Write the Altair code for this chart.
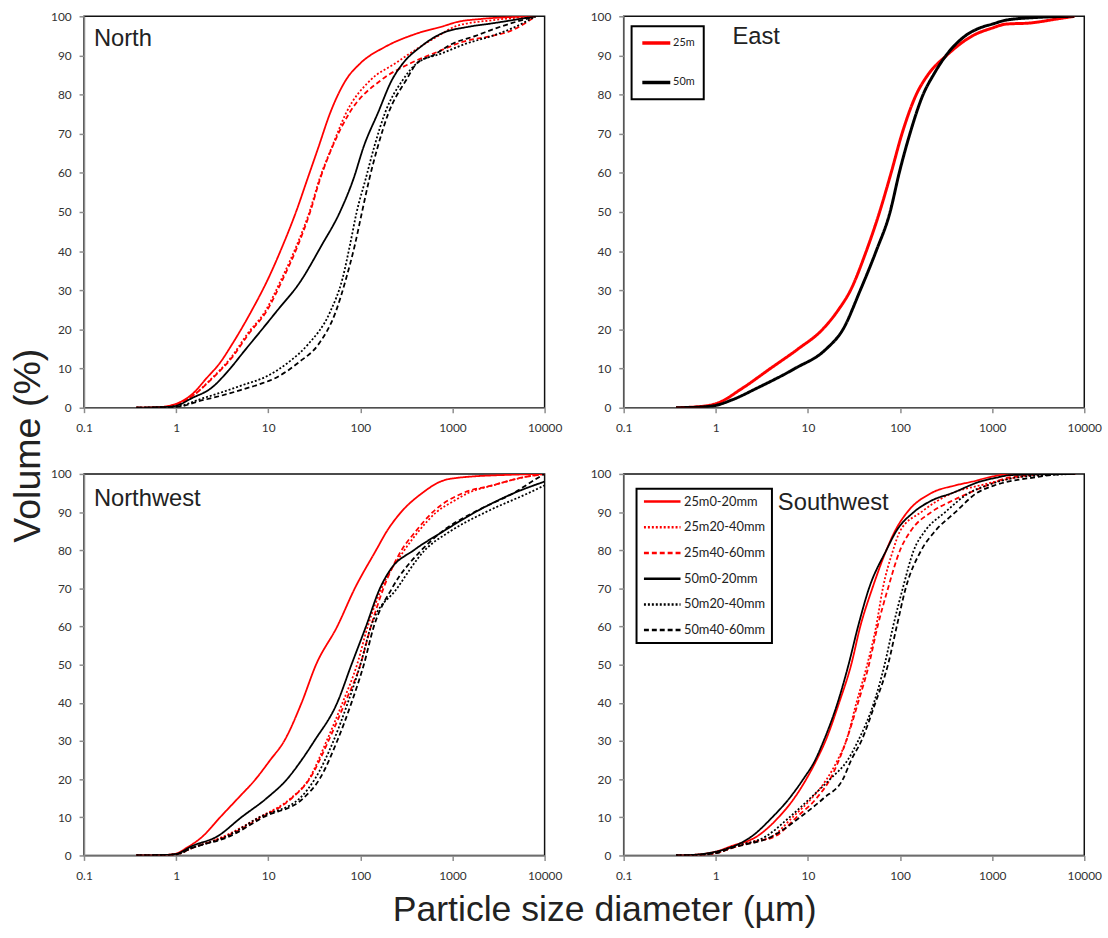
import altair as alt
import pandas as pd

SERIES6 = ["25m0-20mm", "25m20-40mm", "25m40-60mm", "50m0-20mm", "50m20-40mm", "50m40-60mm"]
COLORS6 = ["#ff0000", "#ff0000", "#ff0000", "#000000", "#000000", "#000000"]
DASHES6 = [[1, 0], [2, 2], [5, 3], [1, 0], [2, 2], [5, 3]]
SERIES2 = ["25m", "50m"]
COLORS2 = ["#ff0000", "#000000"]
DASHES2 = [[1, 0], [1, 0]]
X_TICKS = [0.1, 1, 10, 100, 1000, 10000]
Y_TICKS = [0, 10, 20, 30, 40, 50, 60, 70, 80, 90, 100]

# ---- North (size um, cumulative volume %) ----
N_25_0_20 = [(0.37, 0), (0.6, 0.1), (0.8, 0.4), (1, 1), (1.5, 3.5), (2.15, 7.6), (3, 11.5), (4, 16),
             (6.5, 24.5), (10, 33), (14.4, 41.5), (20, 50), (26.6, 58.4), (35, 66.5), (47, 75.3),
             (70, 83.8), (100, 88), (186, 92.2), (410, 95.6), (800, 97.5), (1100, 98.5), (2000, 99.3),
             (8000, 100)]
N_25_20_40 = [(0.37, 0), (0.6, 0.1), (0.8, 0.3), (1, 0.8), (1.5, 3), (2.46, 7.6), (4, 13), (6, 19),
              (9.2, 24.5), (14, 33), (20.4, 41.5), (28, 50), (36, 58.4), (49.5, 66.8), (70, 75.3),
              (130, 83.8), (240, 88), (400, 91.5), (700, 95), (1100, 97.5), (2700, 99), (8000, 100)]
N_25_40_60 = [(0.37, 0), (0.6, 0.1), (0.8, 0.3), (1, 0.8), (1.5, 3), (2.5, 7.6), (4.1, 13), (6.2, 19),
              (9.5, 24.5), (14.5, 33), (21, 41.5), (28.5, 50), (36.5, 58.4), (50, 66.8), (76, 75.3),
              (170, 83.8), (350, 88), (700, 91), (1300, 93.5), (2700, 95), (4000, 96), (8000, 100)]
N_50_0_20 = [(0.37, 0), (0.6, 0.1), (0.8, 0.2), (1, 0.5), (1.5, 2.5), (2.4, 5), (3.7, 9.5), (5.5, 14.5),
             (8.9, 20.5), (12.5, 24.8), (22, 32), (38, 41.5), (60, 50), (84, 58.4), (109, 66.8), (155, 75.3),
             (221, 83.8), (290, 88), (450, 92.2), (760, 95.6), (1470, 97.3), (2700, 98.2), (8000, 100)]
N_50_20_40 = [(0.37, 0), (0.6, 0.05), (1, 0.3), (2, 2.5), (3, 3.8), (5.3, 5.8), (9.2, 7.8), (17, 11.8),
              (26.6, 16), (47, 24.5), (64, 33), (77, 41.5), (91, 49.9), (114, 58.4), (142, 66.8),
              (185, 75.3), (290, 83.8), (410, 88), (760, 90.5), (1400, 93), (2700, 95), (4500, 97),
              (8000, 100)]
N_50_40_60 = [(0.37, 0), (0.6, 0.05), (1, 0.2), (2, 2), (3, 3), (5, 4.5), (8, 6), (12, 7.6), (22, 11.8),
              (34.6, 16), (54, 24.5), (70, 33), (87, 41.5), (104, 49.9), (125, 58.4), (155, 66.8),
              (202, 75.3), (316, 83.8), (410, 88), (610, 90), (1000, 93), (1780, 95), (3000, 97),
              (8000, 100)]

# ---- East ----
E_25 = [(0.37, 0), (0.6, 0.2), (0.8, 0.5), (1, 1), (1.95, 5), (3.9, 10), (7.8, 15), (14.4, 20), (21.4, 25),
        (29, 30), (43, 40), (60, 50), (80, 60), (105, 70), (150, 80), (200, 85), (320, 90), (610, 95),
        (1000, 97), (1400, 98), (2600, 98.3), (5000, 99.3), (7800, 100)]
E_50 = [(0.37, 0), (0.6, 0.1), (0.8, 0.3), (1, 0.6), (1.5, 2), (2.8, 5), (7.2, 10), (15.8, 15), (24, 20),
        (37, 30), (55, 40), (78, 50), (98, 60), (128, 70), (178, 80), (230, 85), (316, 90), (510, 95),
        (730, 97), (1000, 98), (1400, 99), (3000, 99.7), (7800, 100)]

# ---- Northwest ----
NW_25_0_20 = [(0.37, 0), (0.7, 0.1), (1, 0.5), (1.3, 2), (1.94, 5), (3, 10), (4.7, 15), (7.3, 20), (10.5, 25),
              (14.9, 30), (23, 40), (33, 50), (56, 60), (87, 70), (148, 80), (194, 85), (277, 90),
              (470, 95), (740, 98), (1150, 99), (4500, 99.8), (10000, 100)]
NW_25_20_40 = [(0.37, 0), (0.7, 0.1), (1, 0.3), (1.5, 2), (3.3, 5), (8, 10), (17.6, 15), (27.6, 20), (43, 30),
               (64, 40), (92, 50), (120, 60), (170, 70), (300, 80), (430, 85), (670, 90), (1050, 93),
               (1480, 95), (2750, 97), (5600, 99), (10000, 100)]
NW_25_40_60 = [(0.37, 0), (0.7, 0.1), (1, 0.3), (1.5, 2), (3.5, 5), (8.5, 10), (18, 15), (28, 20), (45, 30),
               (68, 40), (100, 50), (130, 60), (178, 70), (280, 80), (400, 85), (610, 90), (1300, 95),
               (2700, 97), (5600, 99), (10000, 100)]
NW_50_0_20 = [(0.37, 0), (0.7, 0.1), (1, 0.4), (1.5, 2.5), (2.8, 5), (5.1, 10), (9.6, 15), (16, 20), (23, 25),
              (31.6, 30), (56, 40), (80, 50), (115, 60), (163, 70), (213, 75), (380, 80), (800, 85),
              (1770, 90), (4670, 95), (10000, 98)]
NW_50_20_40 = [(0.37, 0), (0.7, 0.1), (1, 0.3), (1.5, 2), (3.5, 5), (8, 10), (22, 15), (32, 20), (51, 30),
               (73, 40), (100, 50), (130, 60), (250, 70), (500, 80), (950, 85), (2300, 90), (6700, 95),
               (10000, 97)]
NW_50_40_60 = [(0.37, 0), (0.7, 0.1), (1, 0.3), (1.5, 2), (3.8, 5), (8.8, 10), (24, 15), (36, 20), (56, 30),
               (80, 40), (109, 50), (140, 60), (220, 70), (460, 80), (780, 85), (1730, 90), (4600, 95),
               (8500, 99), (10000, 100)]

# ---- Southwest ----
SW_25_0_20 = [(0.37, 0), (0.6, 0.2), (1, 1), (1.5, 2.5), (2.8, 5), (4.8, 10), (7.1, 15), (9.6, 20), (12.4, 25),
              (15.5, 30), (21.8, 40), (29.5, 50), (37, 60), (50, 70), (71, 80), (88, 85), (120, 90),
              (219, 95), (400, 97), (610, 98), (1000, 99.3), (1600, 100), (8000, 100)]
SW_25_20_40 = [(0.37, 0), (0.6, 0.1), (1, 0.6), (1.5, 2), (2.5, 3.5), (4.1, 5), (6.8, 10), (11, 15), (16, 20),
               (21, 25), (26, 30), (33.6, 40), (44, 50), (55, 60), (65, 70), (84, 80), (100, 85), (170, 90),
               (370, 95), (740, 97), (1770, 99), (4000, 100), (8000, 100)]
SW_25_40_60 = [(0.37, 0), (0.6, 0.1), (1, 0.6), (1.5, 2), (2.5, 3.5), (4.4, 5), (7.5, 10), (12.4, 15),
               (17.4, 20), (26, 30), (35, 40), (46, 50), (57, 60), (74, 70), (100, 80), (130, 85), (219, 90),
               (370, 93), (560, 95), (880, 97), (1480, 99), (4000, 100), (8000, 100)]
SW_50_0_20 = [(0.37, 0), (0.6, 0.2), (1, 1), (1.6, 2.5), (2.45, 5), (4.1, 10), (6.3, 15), (8.9, 20), (12, 25),
              (14.8, 30), (21, 40), (27.6, 50), (35, 60), (46, 70), (71, 80), (91, 85), (141, 90), (219, 93),
              (370, 95), (740, 98), (1100, 99), (1600, 99.7), (8000, 100)]
SW_50_20_40 = [(0.37, 0), (0.6, 0.1), (1, 0.8), (1.5, 2.3), (3.5, 5), (6.3, 10), (10.6, 15), (17.4, 20),
               (27, 25), (35, 30), (52, 40), (68, 50), (84, 60), (107, 70), (141, 80), (186, 85), (310, 90),
               (560, 95), (880, 97), (1770, 99), (4000, 99.7), (8000, 100)]
SW_50_40_60 = [(0.37, 0), (0.6, 0.1), (1, 0.6), (1.5, 2), (4.1, 5), (8.2, 10), (14.8, 15), (24, 20),
               (29.5, 25), (38, 30), (54, 40), (74, 50), (92, 60), (115, 70), (170, 80), (240, 85), (400, 90),
               (680, 95), (1060, 97), (2700, 99), (6500, 100), (8000, 100)]

W = 466
H_TOP = 396
H_BOT = 386
LABEL_FONT = "Lato"
TITLE_FONT = "Liberation Sans"


def make_panel(curves, names, colors, dashes, line_w, label, lx, ly, height, legend=None):
    rows = []
    for name, pts in zip(names, curves):
        for i, (x, y) in enumerate(pts):
            rows.append({"size": x, "vol": y, "series": name, "order": i})
    df = pd.DataFrame(rows)
    x_enc = alt.X("size:Q",
                  scale=alt.Scale(type="log", domain=[0.1, 10000], nice=False),
                  axis=alt.Axis(values=X_TICKS, format="~g", grid=False, title=None, tickSize=5,
                                labelPadding=10, labelFontSize=12, labelFont=LABEL_FONT,
                                labelColor="#333333", domainColor="#8c8c8c", domainWidth=1.5,
                                tickColor="#8c8c8c", tickWidth=1.5, labelFlush=False))
    y_enc = alt.Y("vol:Q",
                  scale=alt.Scale(domain=[0, 100], nice=False),
                  axis=alt.Axis(values=Y_TICKS, grid=False, title=None, tickSize=5, labelPadding=8,
                                labelFontSize=12, labelFont=LABEL_FONT, labelColor="#333333",
                                domainColor="#8c8c8c", domainWidth=1.5, tickColor="#8c8c8c",
                                tickWidth=1.5))
    color_enc = alt.Color("series:N", scale=alt.Scale(domain=names, range=colors), sort=names,
                          legend=legend)
    dash_enc = alt.StrokeDash("series:N", scale=alt.Scale(domain=names, range=dashes), sort=names,
                              legend=legend)
    lines = alt.Chart(df).mark_line(strokeWidth=line_w, interpolate="monotone", clip=True).encode(
        x=x_enc, y=y_enc, color=color_enc, strokeDash=dash_enc, order="order:Q", detail="series:N")
    txt = alt.Chart(pd.DataFrame({"t": [label]})).mark_text(
        align="left", baseline="middle", fontSize=24, font=TITLE_FONT, color="#222222").encode(
        x=alt.value(lx), y=alt.value(ly), text="t:N")
    return alt.layer(lines, txt).properties(width=W, height=height)


legend_east = alt.Legend(orient="none", legendX=8, legendY=10, title=None, symbolType="stroke",
                         symbolSize=800, symbolStrokeWidth=3.5, labelFontSize=11, labelFont=LABEL_FONT,
                         labelColor="#222222", clipHeight=16, rowPadding=24, padding=9,
                         strokeColor="#000000", fillColor="#ffffff", labelOffset=1)
legend_sw = alt.Legend(orient="none", legendX=13, legendY=15, title=None, symbolType="stroke",
                       symbolSize=1369, symbolStrokeWidth=2.5, labelFontSize=13, labelFont=LABEL_FONT,
                       labelColor="#222222", clipHeight=14, rowPadding=12, padding=6,
                       strokeColor="#000000", fillColor="#ffffff", labelOffset=2)

north = make_panel([N_25_0_20, N_25_20_40, N_25_40_60, N_50_0_20, N_50_20_40, N_50_40_60],
                   SERIES6, COLORS6, DASHES6, 1.8, "North", 10, 23, H_TOP)
east = make_panel([E_25, E_50], SERIES2, COLORS2, DASHES2, 3, "East", 110, 21, H_TOP, legend_east)
northwest = make_panel([NW_25_0_20, NW_25_20_40, NW_25_40_60, NW_50_0_20, NW_50_20_40, NW_50_40_60],
                       SERIES6, COLORS6, DASHES6, 1.8, "Northwest", 10, 25, H_BOT)
southwest = make_panel([SW_25_0_20, SW_25_20_40, SW_25_40_60, SW_50_0_20, SW_50_20_40, SW_50_40_60],
                       SERIES6, COLORS6, DASHES6, 1.8, "Southwest", 156, 29, H_BOT, legend_sw)

RES = dict(color="independent", strokeDash="independent")

top_row = alt.hconcat(north, east, spacing=26).resolve_scale(**RES).resolve_legend(**RES)
bot_row = alt.hconcat(northwest, southwest, spacing=26).resolve_scale(**RES).resolve_legend(**RES)
grid = alt.vconcat(top_row, bot_row, spacing=33).resolve_scale(**RES).resolve_legend(**RES).properties(
    title=alt.TitleParams("Volume (%)", orient="left", anchor="middle", fontSize=38, font=TITLE_FONT,
                          fontWeight="normal", color="#222222", offset=2))
chart = alt.vconcat(grid).resolve_scale(**RES).resolve_legend(**RES).properties(
    title=alt.TitleParams("Particle size diameter (µm)", orient="bottom", anchor="middle", fontSize=36,
                          font=TITLE_FONT, fontWeight="normal", color="#222222", offset=12, dx=49),
    padding={"left": 10, "top": 4, "right": 5, "bottom": 2},
    background="white",
).configure_view(stroke="#111111", strokeWidth=1.5).configure_legend(strokeWidth=2)

chart.save("out.html", embed_options={"renderer": "svg", "actions": False})
